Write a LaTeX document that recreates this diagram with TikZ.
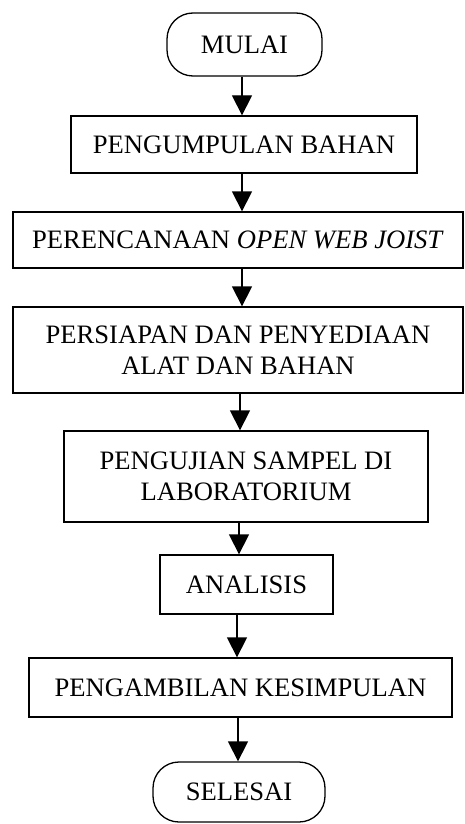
\documentclass[tikz,border=0pt]{standalone}
\usepackage{fontspec}
\setmainfont{Liberation Serif}
\usetikzlibrary{arrows.meta}
\begin{document}
\begin{tikzpicture}[x=1pt,y=-1pt,
  box/.style={draw, line width=1.3pt, inner sep=0pt, align=center, font=\fontsize{26.6}{31}\selectfont},
  term/.style={box, rounded corners=26pt},
  arr/.style={line width=1.3pt, -{Triangle[length=20pt,width=20pt]}}]
\useasboundingbox (0,0) rectangle (464,824);
\node[term, minimum width=155pt, minimum height=63pt] (mulai) at (244.5,44.5) {MULAI};
\node[box, minimum width=346pt, minimum height=57pt] (kumpul) at (244,144.5) {PENGUMPULAN BAHAN};
\node[box, minimum width=450pt, minimum height=56pt] (rencana) at (238,240) {PERENCANAAN \textit{OPEN WEB JOIST}};
\node[box, minimum width=450pt, minimum height=86pt] (siap) at (238,350) {PERSIAPAN DAN PENYEDIAAN\\ALAT DAN BAHAN};
\node[box, minimum width=364pt, minimum height=91pt] (uji) at (246,476.5) {PENGUJIAN SAMPEL DI\\LABORATORIUM};
\node[box, minimum width=173pt, minimum height=59pt] (analisis) at (246.5,584.5) {ANALISIS};
\node[box, minimum width=423pt, minimum height=59pt] (simpul) at (240.5,687.5) {PENGAMBILAN KESIMPULAN};
\node[term, minimum width=172pt, minimum height=60pt] (selesai) at (239,792) {SELESAI};
\coordinate (x1) at (242,0);
\coordinate (x2) at (242,0);
\coordinate (x3) at (242,0);
\coordinate (x4) at (240,0);
\coordinate (x5) at (239,0);
\coordinate (x6) at (237,0);
\coordinate (x7) at (238,0);
\draw[arr] (mulai.south -| x1) -- (kumpul.north -| x1);
\draw[arr] (kumpul.south -| x2) -- (rencana.north -| x2);
\draw[arr] (rencana.south -| x3) -- (siap.north -| x3);
\draw[arr] (siap.south -| x4) -- (uji.north -| x4);
\draw[arr] (uji.south -| x5) -- (analisis.north -| x5);
\draw[arr] (analisis.south -| x6) -- (simpul.north -| x6);
\draw[arr] (simpul.south -| x7) -- (selesai.north -| x7);
\end{tikzpicture}
\end{document}
